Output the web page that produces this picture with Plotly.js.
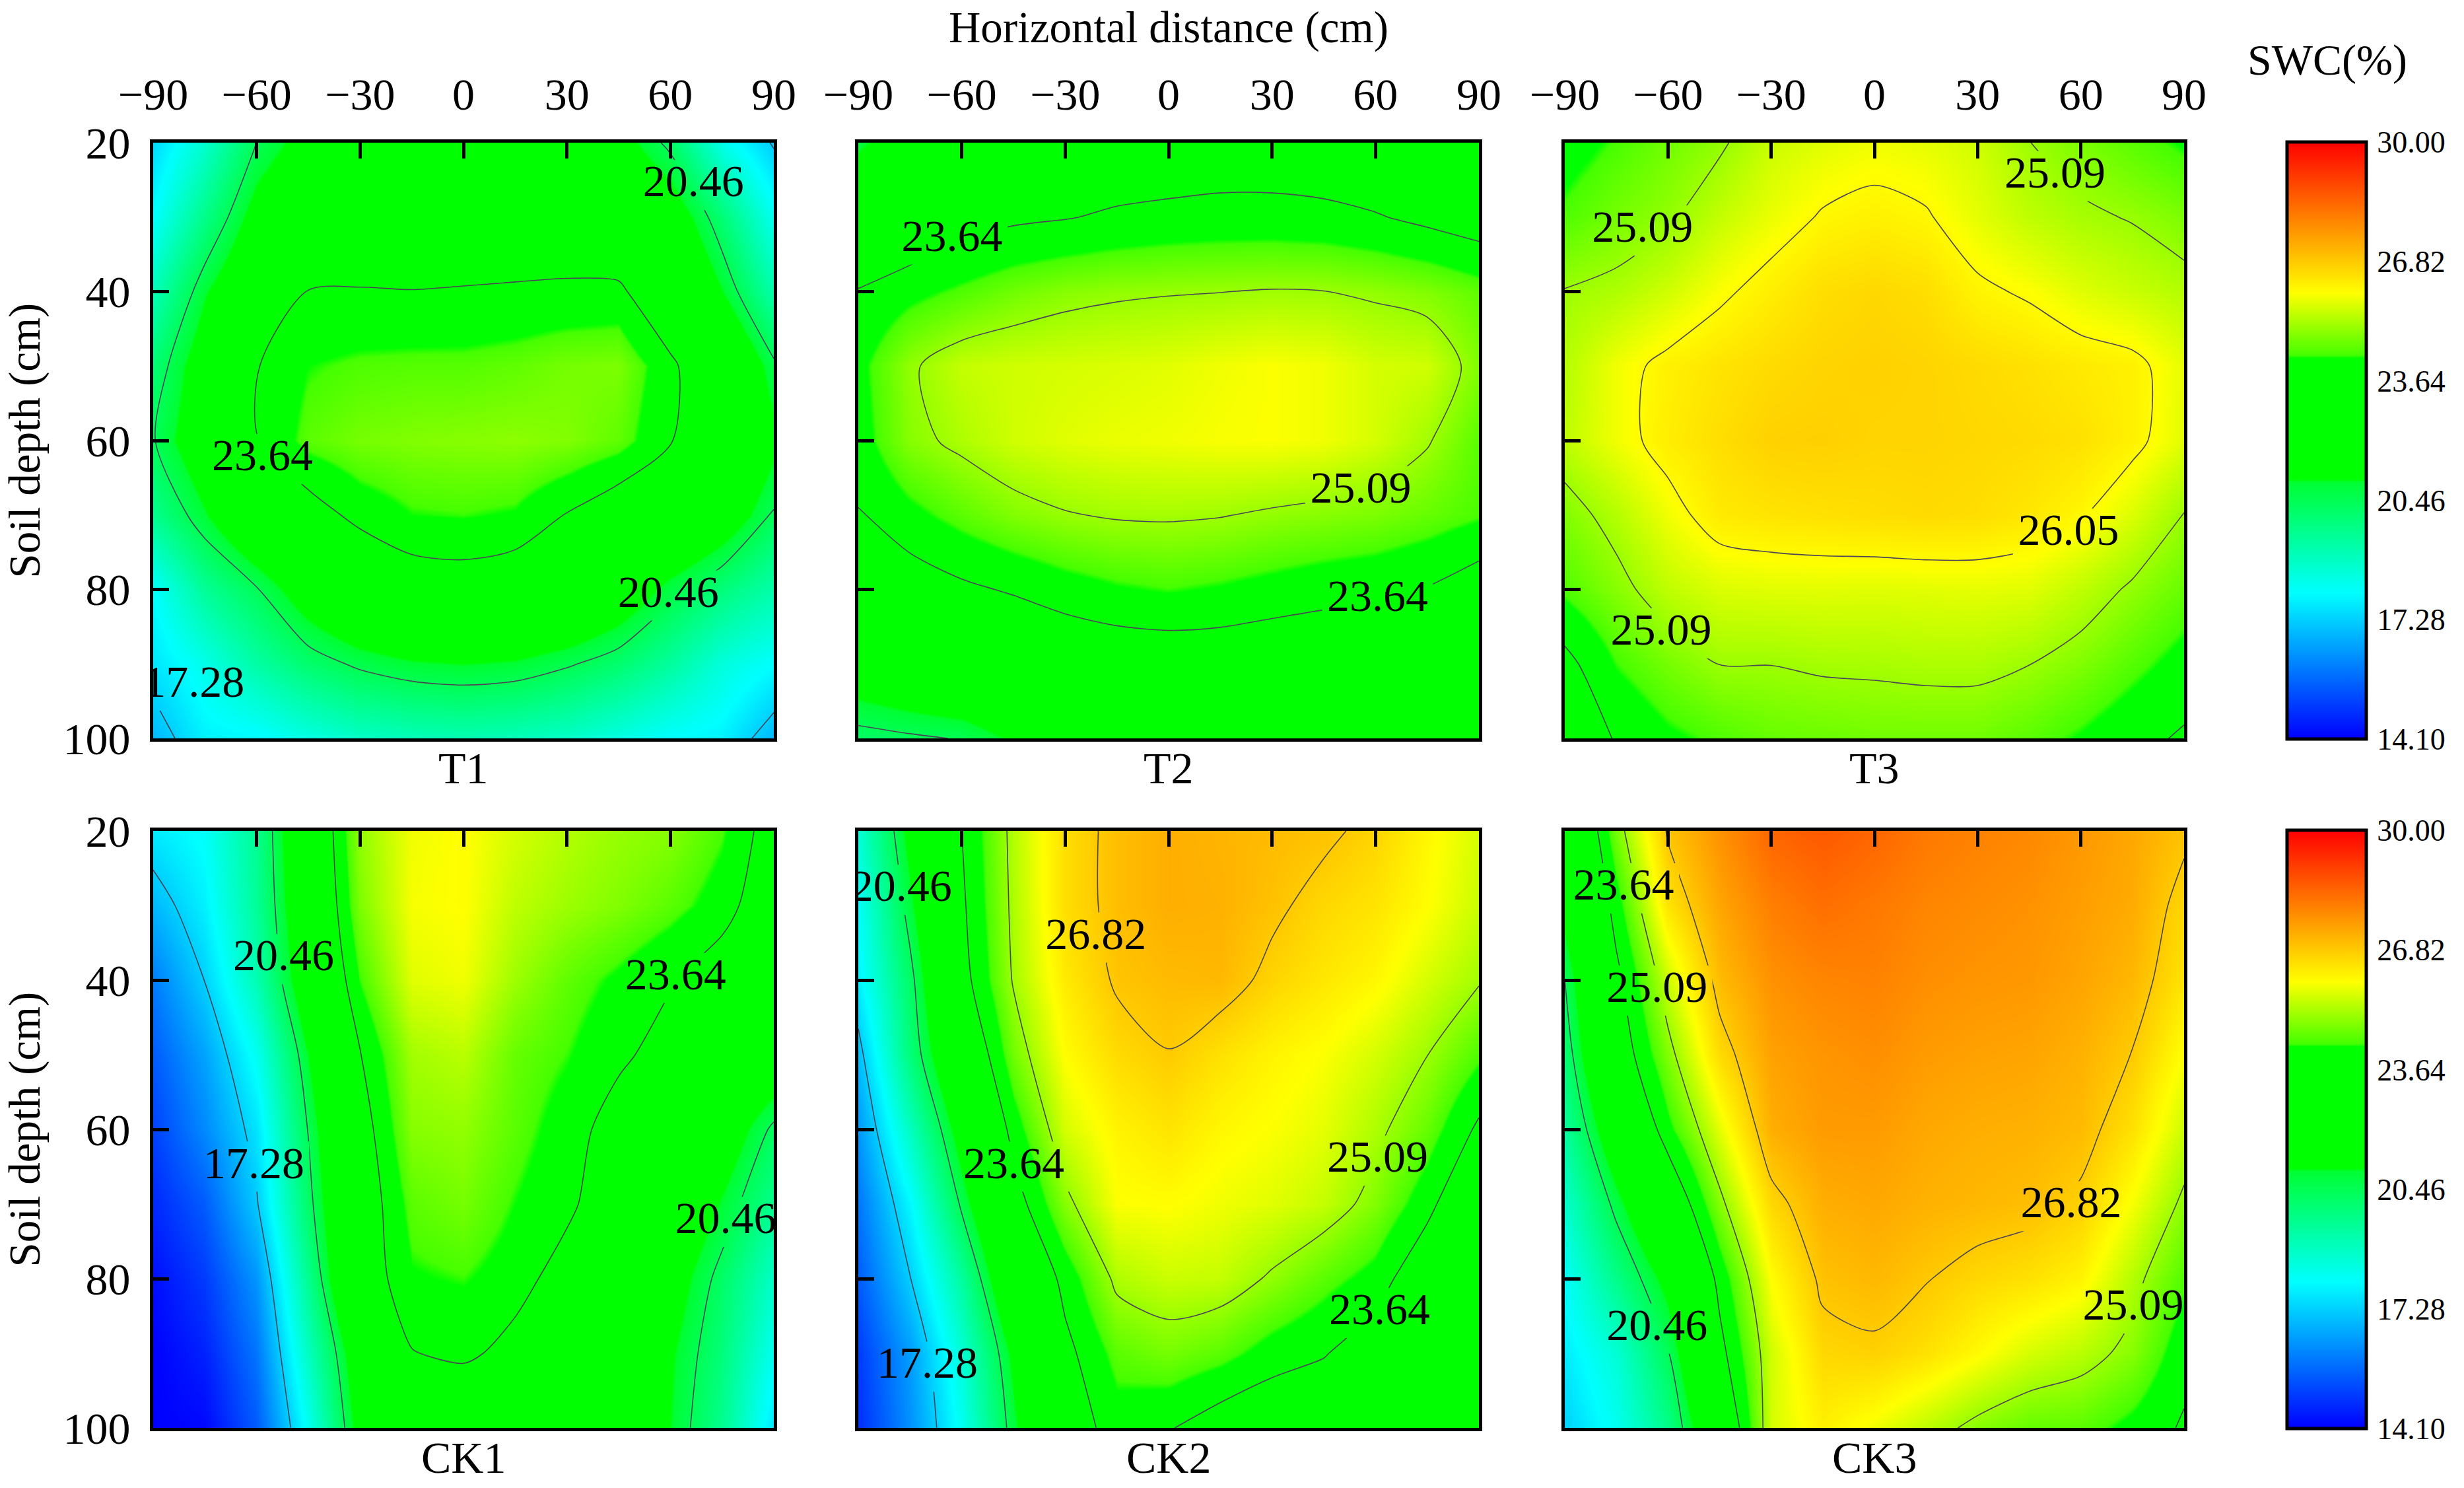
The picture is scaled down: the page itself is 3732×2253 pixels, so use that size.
<!DOCTYPE html>
<html>
<head>
<meta charset="utf-8">
<script src="https://cdn.plot.ly/plotly-3.0.1.min.js"></script>
<style>html,body{margin:0;padding:0;background:#fff}</style>
</head>
<body>
<div id="chart" style="width:3732px;height:2253px"></div>
<script>
var panelNames = ['T1','T2','T3','CK1','CK2','CK3'];
var distance = [-90,-75,-60,-45,-30,-15,0,15,30,45,60,75,90];
var depth = [20,30,40,50,60,70,80,90,100];
var levelsT1 = [17.28,20.46,23.64];
var levelsT2 = [20.46,23.64,25.09];
var levelsT3 = [23.64,25.09,26.05];
var levelsCK1 = [17.28,20.46,23.64];
var levelsCK2 = [17.28,20.46,23.64,25.09,26.82];
var levelsCK3 = [20.46,23.64,25.09,26.82];
var barTicks = [14.10,17.28,20.46,23.64,26.82,30.00];
var barTickText = ['14.10','17.28','20.46','23.64','26.82','30.00'];
var xTicks = [-90,-60,-30,0,30,60,90];
var yTicks = [20,40,60,80,100];

var swcT1 = [
 [17.4,18.7,20.46,21.4,22.2,22.6,22.7,22.6,22.2,21.4,20.25,18.3,17.2],
 [18.0,19.7,21.4,22.3,22.7,22.9,22.9,22.9,22.9,22.4,21.7,20.0,18.2],
 [19.0,20.9,22.2,23.68,23.7,23.66,23.7,23.75,23.8,23.85,22.6,21.0,19.2],
 [20.0,21.6,23.6,24.25,24.4,24.45,24.45,24.55,24.75,24.8,23.85,22.5,20.6],
 [20.4,21.8,23.6,24.5,24.75,24.85,24.9,24.95,24.85,24.55,23.7,22.6,21.2],
 [19.6,20.9,22.3,23.2,23.9,24.25,24.3,24.2,23.6,23.0,22.6,21.7,20.4],
 [18.0,19.5,20.4,21.6,22.5,23.1,23.2,23.0,22.6,21.8,20.7,19.9,19.2],
 [17.6,18.3,19.3,20.1,20.6,20.9,21.0,20.9,20.55,20.1,19.4,18.5,18.0],
 [16.9,17.8,17.9,18.4,18.8,19.0,19.1,19.0,18.8,18.4,18.0,17.8,16.9]
];
var swcT2 = [
 [20.8,21.7,22.3,22.6,22.8,23.0,23.0,23.1,23.1,23.0,22.8,22.6,22.3],
 [22.2,22.8,23.3,23.5,23.6,23.75,23.85,23.9,23.9,23.85,23.7,23.45,23.2],
 [23.7,24.1,24.4,24.7,24.9,25.0,25.05,25.08,25.13,25.1,25.0,24.85,24.55],
 [24.1,25.0,25.45,25.55,25.6,25.65,25.72,25.85,25.95,25.85,25.6,25.55,24.85],
 [24.0,24.9,25.25,25.55,25.7,25.8,25.85,25.92,25.95,25.85,25.6,25.15,24.5],
 [23.6,24.1,24.5,24.85,25.05,25.15,25.17,25.12,25.0,24.9,24.8,24.6,24.35],
 [23.0,23.2,23.5,23.72,24.0,24.2,24.3,24.2,24.05,23.9,23.8,23.6,23.2],
 [21.7,22.1,22.4,22.7,22.9,23.05,23.1,23.1,23.0,22.95,22.9,22.7,22.5],
 [20.2,20.35,20.5,21.1,21.5,21.8,21.9,21.9,21.9,21.9,21.9,21.9,21.8]
];
var swcT3 = [
 [24.0,24.35,24.7,25.0,25.5,25.7,25.85,25.75,25.55,25.1,24.8,24.5,24.2],
 [24.4,24.75,25.0,25.45,25.8,26.1,26.2,26.1,25.75,25.4,25.2,25.05,24.8],
 [25.12,25.25,25.55,25.95,26.25,26.5,26.6,26.5,26.15,25.98,25.7,25.5,25.3],
 [25.3,25.85,26.2,26.4,26.55,26.65,26.7,26.65,26.55,26.45,26.3,26.2,25.75],
 [25.4,25.85,26.25,26.5,26.7,26.72,26.65,26.65,26.6,26.55,26.45,26.2,25.7],
 [24.85,25.3,25.85,26.3,26.4,26.45,26.5,26.55,26.5,26.35,26.1,25.65,25.07],
 [24.4,24.9,25.4,25.65,25.7,25.72,25.7,25.72,25.75,25.7,25.4,25.0,24.6],
 [23.4,24.3,24.75,25.1,25.1,25.18,25.2,25.25,25.25,25.1,24.85,24.45,24.05],
 [23.0,23.7,24.15,24.4,24.6,24.65,24.7,24.7,24.7,24.5,24.2,23.85,23.55]
];
var swcCK1 = [
 [17.7,18.1,19.6,22.4,25.0,25.85,26.0,25.6,25.3,25.05,24.9,24.35,23.2],
 [16.9,17.8,19.5,22.2,24.8,25.9,26.0,25.4,25.1,24.85,24.5,24.0,22.9],
 [16.0,17.3,19.1,21.9,24.3,25.7,25.85,25.1,24.55,24.15,23.7,23.1,22.3],
 [15.5,16.6,18.2,21.0,23.6,25.15,25.35,24.6,24.3,23.8,23.3,22.5,21.9],
 [15.1,16.2,17.6,20.5,23.2,24.9,25.0,24.5,24.0,23.25,22.7,21.7,20.3],
 [14.7,15.5,17.2,20.2,23.0,24.5,24.75,24.25,23.85,22.9,22.1,20.9,19.6],
 [14.3,15.0,16.4,19.6,23.0,24.2,24.3,24.0,23.2,22.5,21.5,20.2,18.8],
 [14.1,14.6,15.9,18.9,21.8,23.6,23.85,23.3,22.5,22.1,21.1,19.9,18.2],
 [14.1,14.2,15.5,18.2,21.4,22.0,22.3,22.3,22.1,21.8,21.0,19.6,17.6]
];
var swcCK2 = [
 [18.6,21.3,23.64,25.3,26.5,27.0,27.25,27.15,27.05,26.95,26.65,26.1,25.6],
 [18.1,20.8,23.5,25.25,26.5,27.0,27.25,27.2,26.95,26.6,26.4,26.0,25.5],
 [17.8,20.2,23.3,25.15,26.3,26.9,27.05,27.1,26.65,26.35,26.1,25.6,25.15],
 [17.0,19.9,22.5,24.7,26.0,26.55,26.8,26.45,26.15,25.95,25.6,25.1,24.4],
 [16.4,18.9,21.5,23.95,25.6,26.15,26.4,26.1,25.95,25.75,25.25,24.6,23.5],
 [15.9,17.9,20.6,23.2,24.9,25.95,26.0,25.85,25.7,25.45,24.85,23.9,22.5],
 [15.5,17.25,19.4,22.3,23.9,25.25,25.5,25.45,25.0,24.5,24.05,22.9,21.9],
 [15.0,16.5,18.6,21.2,23.4,24.5,24.75,24.5,24.0,23.7,23.1,22.4,21.6],
 [14.8,16.3,18.2,20.8,23.1,24.0,23.7,23.2,22.9,22.8,22.5,22.2,21.8]
];
var swcCK3 = [
 [21.7,24.75,26.9,27.7,28.4,28.6,28.4,28.1,27.95,27.85,27.6,27.35,26.95],
 [21.3,24.0,26.4,27.4,28.0,28.25,28.1,27.9,27.8,27.7,27.5,27.3,26.6],
 [20.45,23.4,25.5,27.05,27.7,27.9,27.95,27.75,27.65,27.6,27.4,27.1,26.4],
 [20.0,23.0,24.85,26.55,27.45,27.65,27.75,27.55,27.45,27.4,27.2,26.8,25.95],
 [19.4,21.9,24.1,25.75,27.25,27.55,27.55,27.35,27.25,27.2,27.05,26.45,25.5],
 [18.7,20.7,22.7,24.9,26.6,27.25,27.35,27.2,27.1,27.0,26.7,25.9,24.95],
 [18.1,19.7,21.3,23.9,26.0,26.95,27.1,26.85,26.6,26.45,26.15,25.3,24.4],
 [17.7,18.6,20.4,23.35,25.55,26.6,26.7,26.45,26.05,25.6,25.35,24.9,23.9],
 [17.3,18.2,19.7,22.4,25.6,26.2,25.85,25.4,24.9,24.6,24.5,24.1,23.55]
];

var labelTextT1 = ['20.46','23.64','20.46','17.28'];
var labelXT1 = [66.7,-58.3,59.4,-78.2];
var labelYT1 = [25.7,62.5,80.8,92.9];
var labelTextT2 = ['23.64','25.09','23.64'];
var labelXT2 = [-62.8,55.7,60.6];
var labelYT2 = [33,66.8,81.4];
var labelTextT3 = ['25.09','25.09','26.05','25.09'];
var labelXT3 = [52.5,-67.4,56.4,-62];
var labelYT3 = [24.5,31.8,72.5,85.9];
var labelTextCK1 = ['20.46','23.64','17.28','20.46'];
var labelXCK1 = [-52.2,61.5,-60.8,76];
var labelYCK1 = [37.2,39.7,65,72.4];
var labelTextCK2 = ['20.46','26.82','23.64','25.09','23.64','17.28'];
var labelXCK2 = [-77.5,-21.1,-44.9,60.6,61.2,-70];
var labelYCK2 = [27.9,34.3,65,64.2,84.6,91.8];
var labelTextCK3 = ['23.64','25.09','26.82','25.09','20.46'];
var labelXCK3 = [-72.9,-63.2,57.2,75.2,-63.2];
var labelYCK3 = [27.7,41.4,70.3,84,86.7];

var W = 3732, H = 2253, FONT = 'Liberation Serif, Times New Roman, serif', TXT = 68;
var colsPx = [[232,1172],[1300,2240],[2370,3308]];
var rowsPx = [[216,1118],[1258,2162]];
var scale = [
 [0,'rgb(0,0,255)'],[0.245,'rgb(0,255,255)'],[0.43,'rgb(0,255,50)'],[0.435,'rgb(0,255,0)'],
 [0.638,'rgb(0,255,0)'],[0.643,'rgb(70,255,0)'],[0.747,'rgb(255,255,0)'],[1,'rgb(255,0,0)']
];
var grids = [swcT1,swcT2,swcT3,swcCK1,swcCK2,swcCK3];
var levelSets = [levelsT1,levelsT2,levelsT3,levelsCK1,levelsCK2,levelsCK3];
var labelSets = [
 [labelXT1,labelYT1,labelTextT1],[labelXT2,labelYT2,labelTextT2],[labelXT3,labelYT3,labelTextT3],
 [labelXCK1,labelYCK1,labelTextCK1],[labelXCK2,labelYCK2,labelTextCK2],[labelXCK3,labelYCK3,labelTextCK3]
];
var traces = [], layout = {
 width:W, height:H, paper_bgcolor:'#fff', plot_bgcolor:'#fff', showlegend:false,
 margin:{l:0,r:0,t:0,b:0,autoexpand:false},
 font:{family:FONT,size:TXT,color:'#000'}, annotations:[]
};
function bar(rowIdx){
 return {
  x:3464/W, xanchor:'left', y:1-(rowsPx[rowIdx][0]-1)/H, yanchor:'top',
  len:(rowsPx[rowIdx][1]-rowsPx[rowIdx][0]+2)/H, lenmode:'fraction', thickness:120, thicknessmode:'pixels',
  xpad:0, ypad:0, outlinewidth:5, outlinecolor:'#000', borderwidth:0, ticks:'outside', ticklen:5, tickcolor:'rgba(0,0,0,0)',
  tickmode:'array', tickvals:barTicks, ticktext:barTickText,
  tickfont:{family:FONT,size:46,color:'#000'}
 };
}
panelNames.forEach(function(name,i){
 var col = i%3, row = Math.floor(i/3), id = i===0?'':String(i+1);
 var xa='x'+id, ya='y'+id;
 var base = {type:'contour',x:distance,y:depth,z:grids[i],xaxis:xa,yaxis:ya,zmin:14.1,zmax:30,zauto:false,
  colorscale:scale,zsmooth:'best',contours:{coloring:'heatmap',showlines:false},line:{width:0},
  hoverinfo:'skip',showscale:col===2};
 if(col===2) base.colorbar = bar(row);
 traces.push(base);
 levelSets[i].forEach(function(L){
  traces.push({type:'contour',x:distance,y:depth,z:grids[i],xaxis:xa,yaxis:ya,autocontour:false,showscale:false,
   contours:{coloring:'none',start:L,end:L,size:1,showlines:true},
   line:{color:'#4b4558',width:1.6,smoothing:0.8},hoverinfo:'skip'});
 });
 traces.push({type:'scatter',mode:'text',x:labelSets[i][0],y:labelSets[i][1],text:labelSets[i][2],xaxis:xa,yaxis:ya,
  cliponaxis:true,textposition:'middle center',textfont:{family:FONT,size:TXT,color:'#000'},hoverinfo:'skip'});
 layout['xaxis'+id] = {
  domain:[colsPx[col][0]/W,colsPx[col][1]/W], anchor:ya, side:'top', range:[-90,90], tickmode:'array', tickvals:xTicks,
  ticks:'inside', ticklen:24, tickwidth:5, tickcolor:'#000', showline:true, mirror:true, linewidth:5, linecolor:'#000',
  showgrid:false, zeroline:false, showticklabels:row===0, ticklabelstandoff:18,
  tickfont:{family:FONT,size:TXT,color:'#000'}
 };
 if(i===1) layout.xaxis2.title = {text:'Horizontal distance (cm)',font:{family:FONT,size:67,color:'#000'},standoff:20};
 layout['yaxis'+id] = {
  domain:[1-rowsPx[row][1]/H,1-rowsPx[row][0]/H], anchor:xa, range:[100,20], tickmode:'array', tickvals:yTicks,
  ticks:'inside', ticklen:24, tickwidth:5, tickcolor:'#000', showline:true, mirror:true, linewidth:5, linecolor:'#000',
  showgrid:false, zeroline:false, showticklabels:col===0, ticklabelstandoff:16,
  tickfont:{family:FONT,size:TXT,color:'#000'}
 };
 if(col===0) layout['yaxis'+id].title = {text:'Soil depth (cm)',font:{family:FONT,size:67,color:'#000'},standoff:39};
 layout.annotations.push({text:name,xref:'paper',yref:'paper',
  x:(colsPx[col][0]+colsPx[col][1])/2/W,y:1-(rowsPx[row][1]+45)/H,xanchor:'center',yanchor:'middle',
  showarrow:false,font:{family:FONT,size:TXT,color:'#000'}});
});
layout.annotations.push({text:'SWC(%)',xref:'paper',yref:'paper',x:3525/W,y:1-91/H,xanchor:'center',yanchor:'middle',
 showarrow:false,font:{family:FONT,size:66,color:'#000'}});

// The contour lines stop short of their labels, as in the source figure.
function openLabelGaps(gd){
 var NS='http://www.w3.org/2000/svg', svg=gd.querySelector('.main-svg'), defs=gd.querySelector('defs')||svg;
 panelNames.forEach(function(name,i){
  var id=i===0?'':String(i+1), xa=gd._fullLayout['xaxis'+id], ya=gd._fullLayout['yaxis'+id];
  var mask=document.createElementNS(NS,'mask');
  mask.setAttribute('id','labelgap'+i);
  mask.setAttribute('maskUnits','userSpaceOnUse');
  ['x','y'].forEach(function(k){mask.setAttribute(k,'-10');});
  mask.setAttribute('width',xa._length+20); mask.setAttribute('height',ya._length+20);
  var all=document.createElementNS(NS,'rect');
  all.setAttribute('x',-10);all.setAttribute('y',-10);all.setAttribute('width',xa._length+20);all.setAttribute('height',ya._length+20);
  all.setAttribute('fill','#fff'); mask.appendChild(all);
  labelSets[i][0].forEach(function(lx,k){
   var r=document.createElementNS(NS,'rect');
   r.setAttribute('x',xa.d2p(lx)-84); r.setAttribute('y',ya.d2p(labelSets[i][1][k])-38);
   r.setAttribute('width',168); r.setAttribute('height',76); r.setAttribute('fill','#000');
   mask.appendChild(r);
  });
  defs.appendChild(mask);
  gd.querySelectorAll('.subplot.x'+id+'y'+id+' .contourlines').forEach(function(g){g.setAttribute('mask','url(#labelgap'+i+')');});
 });
}
Plotly.newPlot('chart',traces,layout,{displayModeBar:false,responsive:false}).then(openLabelGaps);
</script>
</body>
</html>
